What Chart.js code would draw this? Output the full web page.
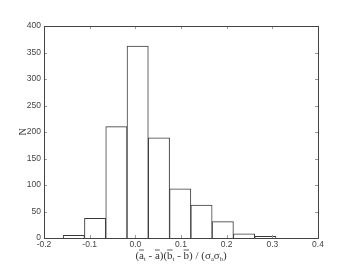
<!DOCTYPE html>
<html>
<head>
<meta charset="utf-8">
<script src="https://cdn.jsdelivr.net/npm/chart.js@4.4.1/dist/chart.umd.min.js"></script>
<style>
  html, body { margin: 0; padding: 0; background: #fff; }
  #wrap { width: 354px; height: 265px; }
</style>
</head>
<body>
<div id="wrap"><canvas id="hist"></canvas></div>
<script>
// bin centres and counts
const binCenters = [-0.1347, -0.0881, -0.0415, 0.0051, 0.0517, 0.0983, 0.1449, 0.1915, 0.2381, 0.2847];
const counts = [5, 37, 210, 362, 189, 93, 62, 31, 8, 3];
const xTicks = [-0.2, -0.1, 0.0, 0.1, 0.2, 0.3, 0.4];
const yTicks = [0, 50, 100, 150, 200, 250, 300, 350, 400];

const tickFont = { family: 'Arial, "Liberation Sans", sans-serif', size: 8.5 };
const tickColor = '#444';

// inward ticks on all four sides, box frame, axis titles
const framePlugin = {
    id: 'frame',
    afterDraw(chart) {
        const ctx = chart.ctx;
        const a = chart.chartArea;
        const xs = chart.scales.x, ys = chart.scales.y;
        ctx.save();
        ctx.strokeStyle = '#999';
        ctx.lineWidth = 1;
        ctx.beginPath();
        xTicks.forEach(v => {
            const px = Math.round(xs.getPixelForValue(v)) + 0.5;
            ctx.moveTo(px, a.bottom); ctx.lineTo(px, a.bottom - 3);
            ctx.moveTo(px, a.top); ctx.lineTo(px, a.top + 3);
        });
        yTicks.forEach(v => {
            const py = Math.round(ys.getPixelForValue(v)) + 0.5;
            ctx.moveTo(a.left, py); ctx.lineTo(a.left + 3, py);
            ctx.moveTo(a.right, py); ctx.lineTo(a.right - 3, py);
        });
        ctx.stroke();

        ctx.strokeStyle = '#444';
        ctx.strokeRect(Math.round(a.left) + 0.5, Math.round(a.top) + 0.5,
            Math.round(a.right - a.left), Math.round(a.bottom - a.top));

        // y label
        ctx.fillStyle = '#333';
        ctx.font = '10px "Times New Roman", "Liberation Serif", serif';
        ctx.translate(23, 132);
        ctx.rotate(-Math.PI / 2);
        ctx.textAlign = 'center';
        ctx.textBaseline = 'middle';
        ctx.fillText('N', 0, 0);
        ctx.restore();

        // x label: (ā_t - ā)(b̄_t - b̄) / (σ_aσ_b)
        ctx.save();
        ctx.fillStyle = '#333';
        ctx.strokeStyle = '#333';
        ctx.lineWidth = 0.8;
        ctx.textBaseline = 'alphabetic';
        const big = '11px "Times New Roman", "Liberation Serif", serif';
        const small = '6.5px "Times New Roman", "Liberation Serif", serif';
        const parts = [
            ['(', big], ['a', big, 'bar'], ['t', small, 'sub'], [' - ', big], ['a', big, 'bar'], [')(', big],
            ['b', big, 'bar'], ['t', small, 'sub'], [' - ', big], ['b', big, 'bar'], [') / (', big],
            ['σ', big], ['a', small, 'sub'], ['σ', big], ['b', small, 'sub'], [')', big]
        ];
        let total = 0;
        parts.forEach(p => { ctx.font = p[1]; total += ctx.measureText(p[0]).width; });
        let x = (a.left + a.right) / 2 - total / 2;
        const base = 259;
        parts.forEach(p => {
            ctx.font = p[1];
            const w = ctx.measureText(p[0]).width;
            const y = p[2] === 'sub' ? base + 2 : base;
            ctx.fillText(p[0], x, y);
            if (p[2] === 'bar') {
                ctx.beginPath();
                ctx.moveTo(x, base - 9);
                ctx.lineTo(x + w, base - 9);
                ctx.stroke();
            }
            x += w;
        });
        ctx.restore();
    }
};

new Chart(document.getElementById('hist'), {
    type: 'bar',
    data: {
        datasets: [{
            data: binCenters.map((c, i) => ({ x: c, y: counts[i] })),
            backgroundColor: '#fff',
            borderColor: '#3a3a3a',
            borderWidth: 1,
            barPercentage: 1,
            categoryPercentage: 1
        }]
    },
    options: {
        responsive: true,
        maintainAspectRatio: false,
        animation: false,
        layout: { padding: 0 },
        plugins: { legend: { display: false }, tooltip: { enabled: false } },
        scales: {
            x: {
                type: 'linear',
                offset: false,
                min: -0.2, max: 0.4,
                afterBuildTicks: s => { s.ticks = xTicks.map(v => ({ value: v })); },
                afterFit: s => { s.height = 27; },
                grid: { display: false, drawTicks: false },
                border: { display: false },
                ticks: {
                    font: tickFont, color: tickColor, padding: 2,
                    maxRotation: 0,
                    callback: v => v.toFixed(1)
                }
            },
            y: {
                min: 0, max: 400,
                afterBuildTicks: s => { s.ticks = yTicks.map(v => ({ value: v })); },
                afterFit: s => { s.width = 44; },
                grid: { display: false, drawTicks: false },
                border: { display: false },
                ticks: { font: tickFont, color: tickColor, padding: 3 }
            },
            top: {
                type: 'linear', position: 'top', min: -0.2, max: 0.4,
                afterFit: s => { s.height = 26; },
                grid: { display: false }, border: { display: false },
                ticks: { display: false }
            },
            right: {
                type: 'linear', position: 'right', min: 0, max: 400,
                afterFit: s => { s.width = 36; },
                grid: { display: false }, border: { display: false },
                ticks: { display: false }
            }
        }
    },
    plugins: [framePlugin]
});
</script>
</body>
</html>
